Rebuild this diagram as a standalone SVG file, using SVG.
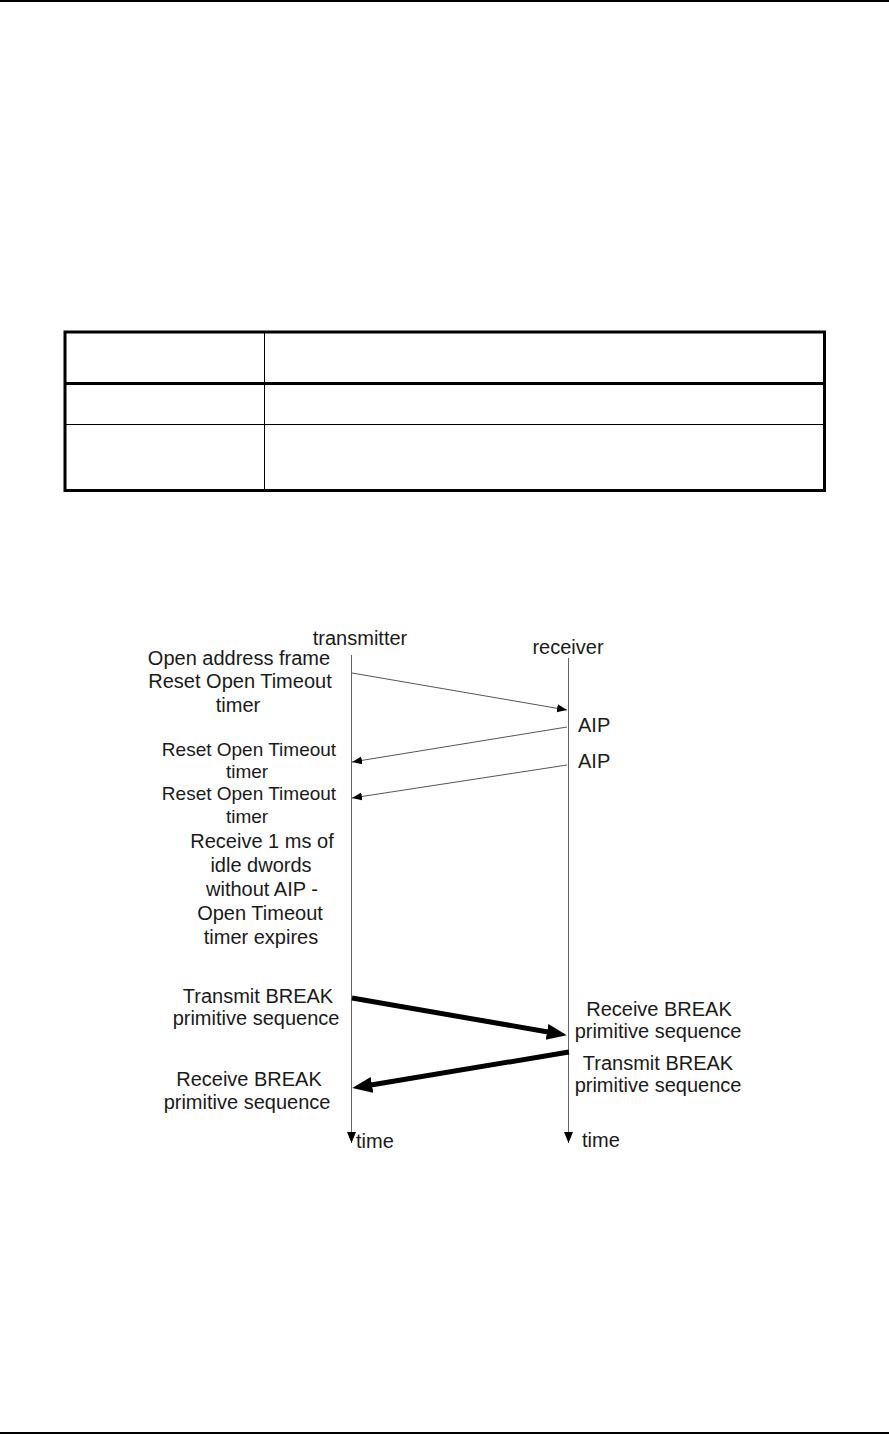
<svg xmlns="http://www.w3.org/2000/svg" width="889" height="1434" viewBox="0 0 889 1434">
<style>
text{font-family:"Liberation Sans",Arial,sans-serif;font-size:20px;fill:#1a1a1a}
.c{text-anchor:middle}
.s{font-size:19px}
.thin{stroke:#555;stroke-width:1;fill:none}
.thick{stroke:#000;stroke-width:5;fill:none}
.life{stroke:#666;stroke-width:1;fill:none}
.tb{fill:none;stroke:#000}
</style>
<defs>
<marker id="ah" markerUnits="userSpaceOnUse" markerWidth="12" markerHeight="10" refX="10" refY="4" orient="auto"><path d="M0,0 L10,4 L0,8 z" fill="#000"/></marker>
<marker id="ahd" markerUnits="userSpaceOnUse" markerWidth="13" markerHeight="11" refX="11" refY="4.5" orient="auto"><path d="M0,0 L11,4.5 L0,9 z" fill="#000"/></marker>
<marker id="ahb" markerUnits="userSpaceOnUse" markerWidth="22" markerHeight="18" refX="1" refY="8" orient="auto"><path d="M0,0 L20,8 L0,16 z" fill="#000"/></marker>
</defs>
<rect x="0" y="0" width="889" height="2" fill="#000"/>
<rect x="0" y="1432" width="889" height="2" fill="#000"/>
<g id="table">
<rect class="tb" x="65" y="332" width="759.5" height="158.5" stroke-width="3"/>
<line class="tb" x1="65" y1="383.5" x2="824.5" y2="383.5" stroke-width="3"/>
<line class="tb" x1="65" y1="424.5" x2="824.5" y2="424.5" stroke-width="1"/>
<line class="tb" x1="264.5" y1="332" x2="264.5" y2="490.5" stroke-width="1"/>
</g>
<g id="transmitter">
<text class="c" x="360" y="645">transmitter</text>
<text x="356" y="1148">time</text>
</g>
<g id="receiver">
<text class="c" x="568" y="654">receiver</text>
<text x="582" y="1147">time</text>
</g>
<g id="connectors">
<line class="life" x1="351.5" y1="655" x2="351.5" y2="1143" marker-end="url(#ahd)"/>
<line class="life" x1="568.5" y1="658" x2="568.5" y2="1143" marker-end="url(#ahd)"/>
<line class="thin" x1="352" y1="673" x2="567" y2="710" marker-end="url(#ah)"/>
<line class="thin" x1="567" y1="727" x2="352" y2="762" marker-end="url(#ah)"/>
<line class="thin" x1="567" y1="765" x2="352" y2="798" marker-end="url(#ah)"/>
<line class="thick" x1="352" y1="998" x2="548" y2="1032" marker-end="url(#ahb)"/>
<line class="thick" x1="569" y1="1052" x2="371" y2="1085" marker-end="url(#ahb)"/>
</g>
<g id="open-address-frame">
<text class="c" x="239" y="665">Open address frame</text>
<text class="c" x="240" y="688">Reset Open Timeout</text>
<text class="c" x="238" y="712">timer</text>
</g>
<g id="aip-1"><text x="578" y="732">AIP</text></g>
<g id="aip-2"><text x="578" y="768">AIP</text></g>
<g id="reset-1">
<text class="c s" x="249" y="756">Reset Open Timeout</text>
<text class="c s" x="247" y="778">timer</text>
</g>
<g id="reset-2">
<text class="c s" x="249" y="800">Reset Open Timeout</text>
<text class="c s" x="247" y="823">timer</text>
</g>
<g id="timeout">
<text class="c" x="262" y="848">Receive 1 ms of</text>
<text class="c" x="261" y="872">idle dwords</text>
<text class="c" x="262" y="896">without AIP -</text>
<text class="c" x="260" y="920">Open Timeout</text>
<text class="c" x="261" y="944">timer expires</text>
</g>
<g id="transmit-break-left">
<text class="c" x="258" y="1003">Transmit BREAK</text>
<text class="c" x="256" y="1025">primitive sequence</text>
</g>
<g id="receive-break-right">
<text class="c" x="659" y="1016">Receive BREAK</text>
<text class="c" x="658" y="1038">primitive sequence</text>
</g>
<g id="transmit-break-right">
<text class="c" x="658" y="1070">Transmit BREAK</text>
<text class="c" x="658" y="1092">primitive sequence</text>
</g>
<g id="receive-break-left">
<text class="c" x="249" y="1086">Receive BREAK</text>
<text class="c" x="247" y="1109">primitive sequence</text>
</g>
</svg>
